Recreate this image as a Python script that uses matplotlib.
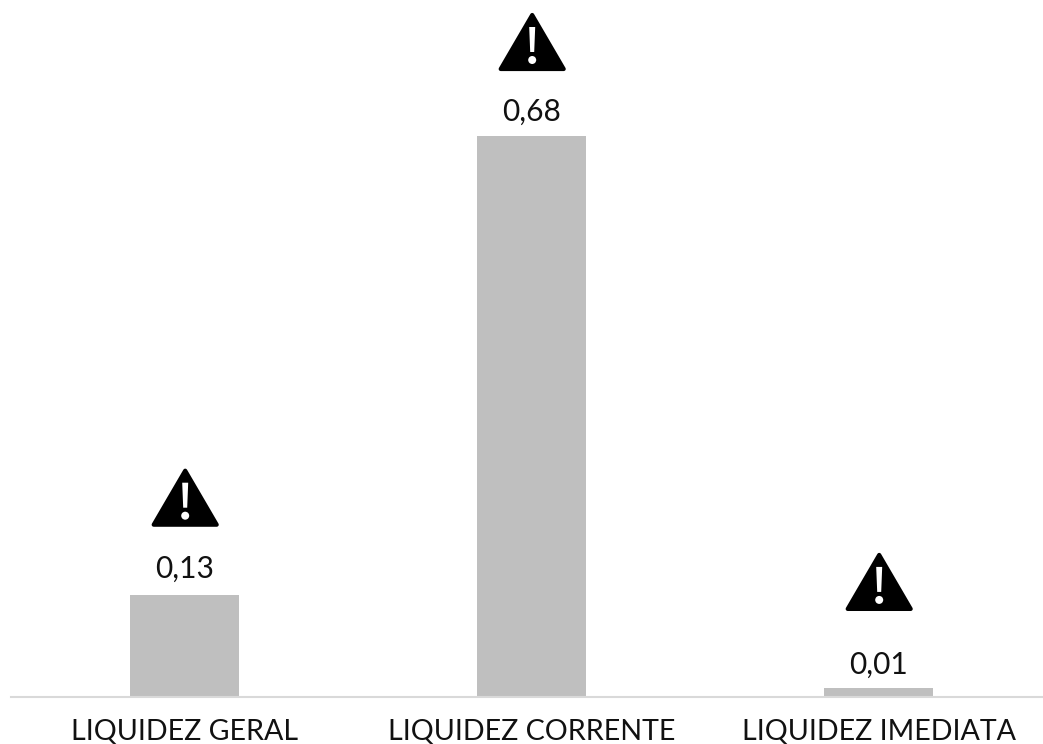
import numpy as np
import matplotlib
matplotlib.use('Agg')
import matplotlib.pyplot as plt
from matplotlib.patches import Polygon, Circle

categories = ['LIQUIDEZ GERAL', 'LIQUIDEZ CORRENTE', 'LIQUIDEZ IMEDIATA']
values = [0.124, 0.68, 0.011]
labels = ['0,13', '0,68', '0,01']
# pixel gaps, they differ per bar
label_gap = [26, 24, 23]
icon_gap = [68, 65, 77]

plt.rcParams['font.family'] = ['Lato', 'DejaVu Sans']

fig = plt.figure(figsize=(10.43, 7.44), dpi=100)
ax = fig.add_axes([11.2 / 1043, (744 - 697) / 744, 1041 / 1043, 685 / 744])

x = np.arange(3)
ax.bar(x, values, width=0.314, color='#bfbfbf')
ax.set_xlim(-0.5, 2.5)
ax.set_ylim(0, 0.68 * 685 / 561)
ax.set_yticks([])
for s in ['top', 'left', 'right']:
    ax.spines[s].set_visible(False)
ax.spines['bottom'].set_color('#d9d9d9')
ax.spines['bottom'].set_linewidth(1.5)
ax.set_xticks(x)
ax.set_xticklabels(categories, fontsize=20.6, color='#111111')
ax.tick_params(axis='x', length=0, pad=15.8)


def warning(xc, vy, gap):
    px, py = ax.transData.transform((xc, vy))
    py = py + gap
    # triangle, the thick round edge gives the rounded corners
    fig.add_artist(Polygon([(px - 31, py + 2), (px + 32, py + 2), (px + 0.5, py + 56)], closed=True,
                           facecolor='black', edgecolor='black', linewidth=3, joinstyle='round', transform=None))
    fig.add_artist(Polygon([(px - 1.5, py + 19), (px + 2.5, py + 19), (px + 3.5, py + 44), (px - 2.5, py + 44)],
                           closed=True, facecolor='white', edgecolor='none', transform=None))
    fig.add_artist(Circle((px + 0.5, py + 11), 4, facecolor='white', edgecolor='none', transform=None))


for xi, v, lab, lg, ig in zip(x, values, labels, label_gap, icon_gap):
    ax.annotate(lab, (xi, v), xytext=(0, lg * 0.72), textcoords='offset points', ha='center', va='center',
                fontsize=21.5, color='#111111')
    warning(xi, v, ig)

fig.savefig('out.png', dpi=100)
